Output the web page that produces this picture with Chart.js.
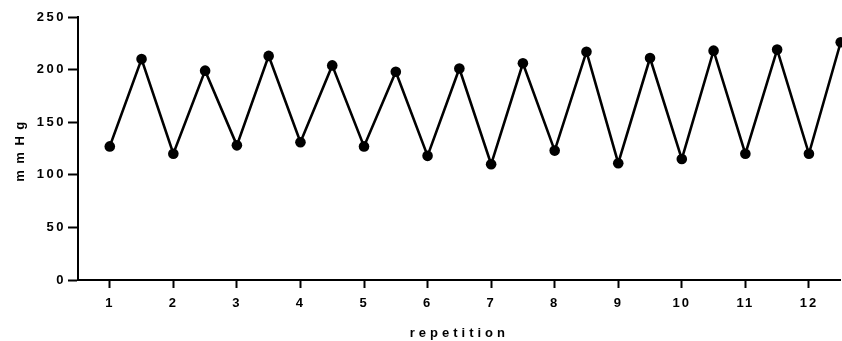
<!DOCTYPE html>
<html>
<head>
<meta charset="utf-8">
<script src="https://cdn.jsdelivr.net/npm/chart.js@4/dist/chart.umd.min.js"></script>
<style>
  html, body { margin: 0; padding: 0; background: #fff; overflow: hidden; }
  #wrap { width: 842px; height: 341px; overflow: hidden; }
</style>
</head>
<body>
<div id="wrap"><canvas id="bpChart" width="846" height="341"></canvas></div>
<script>
/* ── data ─────────────────────────────────────────────── */
const repetitions = [1, 1.5, 2, 2.5, 3, 3.5, 4, 4.5, 5, 5.5, 6, 6.5, 7, 7.5, 8, 8.5, 9, 9.5, 10, 10.5, 11, 11.5, 12, 12.5];
const pressure    = [127, 210, 120, 199, 128, 213, 131, 204, 127, 198, 118, 201, 110, 206, 123, 217, 111, 211, 115, 218, 120, 219, 120, 226];
const xTicks      = [1, 2, 3, 4, 5, 6, 7, 8, 9, 10, 11, 12];
const yTicks      = [0, 50, 100, 150, 200, 250];

const FONT = "'Liberation Sans', Arial, sans-serif";

// ── helper: draw some scale text with extra letter spacing ──
function spaced(fn, spacing) {
  return function (...args) {
    const ctx = this.ctx;
    const prev = ctx.letterSpacing;
    ctx.letterSpacing = spacing;
    fn.apply(this, args);
    ctx.letterSpacing = prev;
  };
}

const letterSpacingPlugin = {
  id: 'letterSpacing',
  beforeDraw(chart) {
    const x = chart.scales.x, y = chart.scales.y;
    if (!x || x._spaced) return;
    x.drawTitle = spaced(x.drawTitle, '4px');
    x.drawLabels = spaced(x.drawLabels, '2px');
    y.drawTitle = spaced(y.drawTitle, '6.5px');
    y.drawLabels = spaced(y.drawLabels, '2.5px');
    x._spaced = true;
  },
};

const axisGrid = {
  drawOnChartArea: false,
  drawTicks: true,
  color: '#000',
  tickColor: '#000',
  tickWidth: 2,
};

new Chart(document.getElementById('bpChart'), {
  type: 'line',
  data: {
    datasets: [{
      label: 'mmHg',
      data: repetitions.map((r, i) => ({ x: r, y: pressure[i] })),
      borderColor: '#000',
      backgroundColor: '#000',
      borderWidth: 2.6,
      tension: 0,
      pointRadius: 5.3,
      pointHoverRadius: 5.3,
      pointBackgroundColor: '#000',
      pointBorderWidth: 0,
      clip: false,
    }],
  },
  options: {
    responsive: false,
    animation: false,
    events: [],
    layout: { padding: { top: 17, right: 1, bottom: 0, left: 0 } },
    plugins: { legend: { display: false }, tooltip: { enabled: false } },
    scales: {
      x: {
        type: 'linear',
        min: 0.5,
        max: 12.5,
        afterBuildTicks: s => { s.ticks = xTicks.map(v => ({ value: v })); },
        afterFit: s => { s.height = 61; },
        grid: { ...axisGrid, tickLength: 8 },
        border: { display: true, color: '#000', width: 2 },
        ticks: {
          color: '#000',
          padding: 8,
          maxRotation: 0,
          autoSkip: false,
          font: { family: FONT, size: 13, weight: 'bold' },
        },
        title: {
          display: true,
          text: 'repetition',
          color: '#000',
          padding: { top: 0, bottom: 0 },
          font: { family: FONT, size: 13, weight: 'bold' },
        },
      },
      y: {
        min: 0,
        max: 250,
        afterBuildTicks: s => { s.ticks = yTicks.map(v => ({ value: v })); },
        afterFit: s => { s.width = 78; },
        grid: { ...axisGrid, tickLength: 10 },
        border: { display: true, color: '#000', width: 2 },
        ticks: {
          color: '#000',
          padding: 2,
          font: { family: FONT, size: 13, weight: 'bold' },
        },
        title: {
          display: true,
          text: 'mmHg',
          color: '#000',
          padding: { top: 13, bottom: 0 },
          font: { family: FONT, size: 13, weight: 'bold' },
        },
      },
    },
  },
  plugins: [letterSpacingPlugin],
});
</script>
</body>
</html>
